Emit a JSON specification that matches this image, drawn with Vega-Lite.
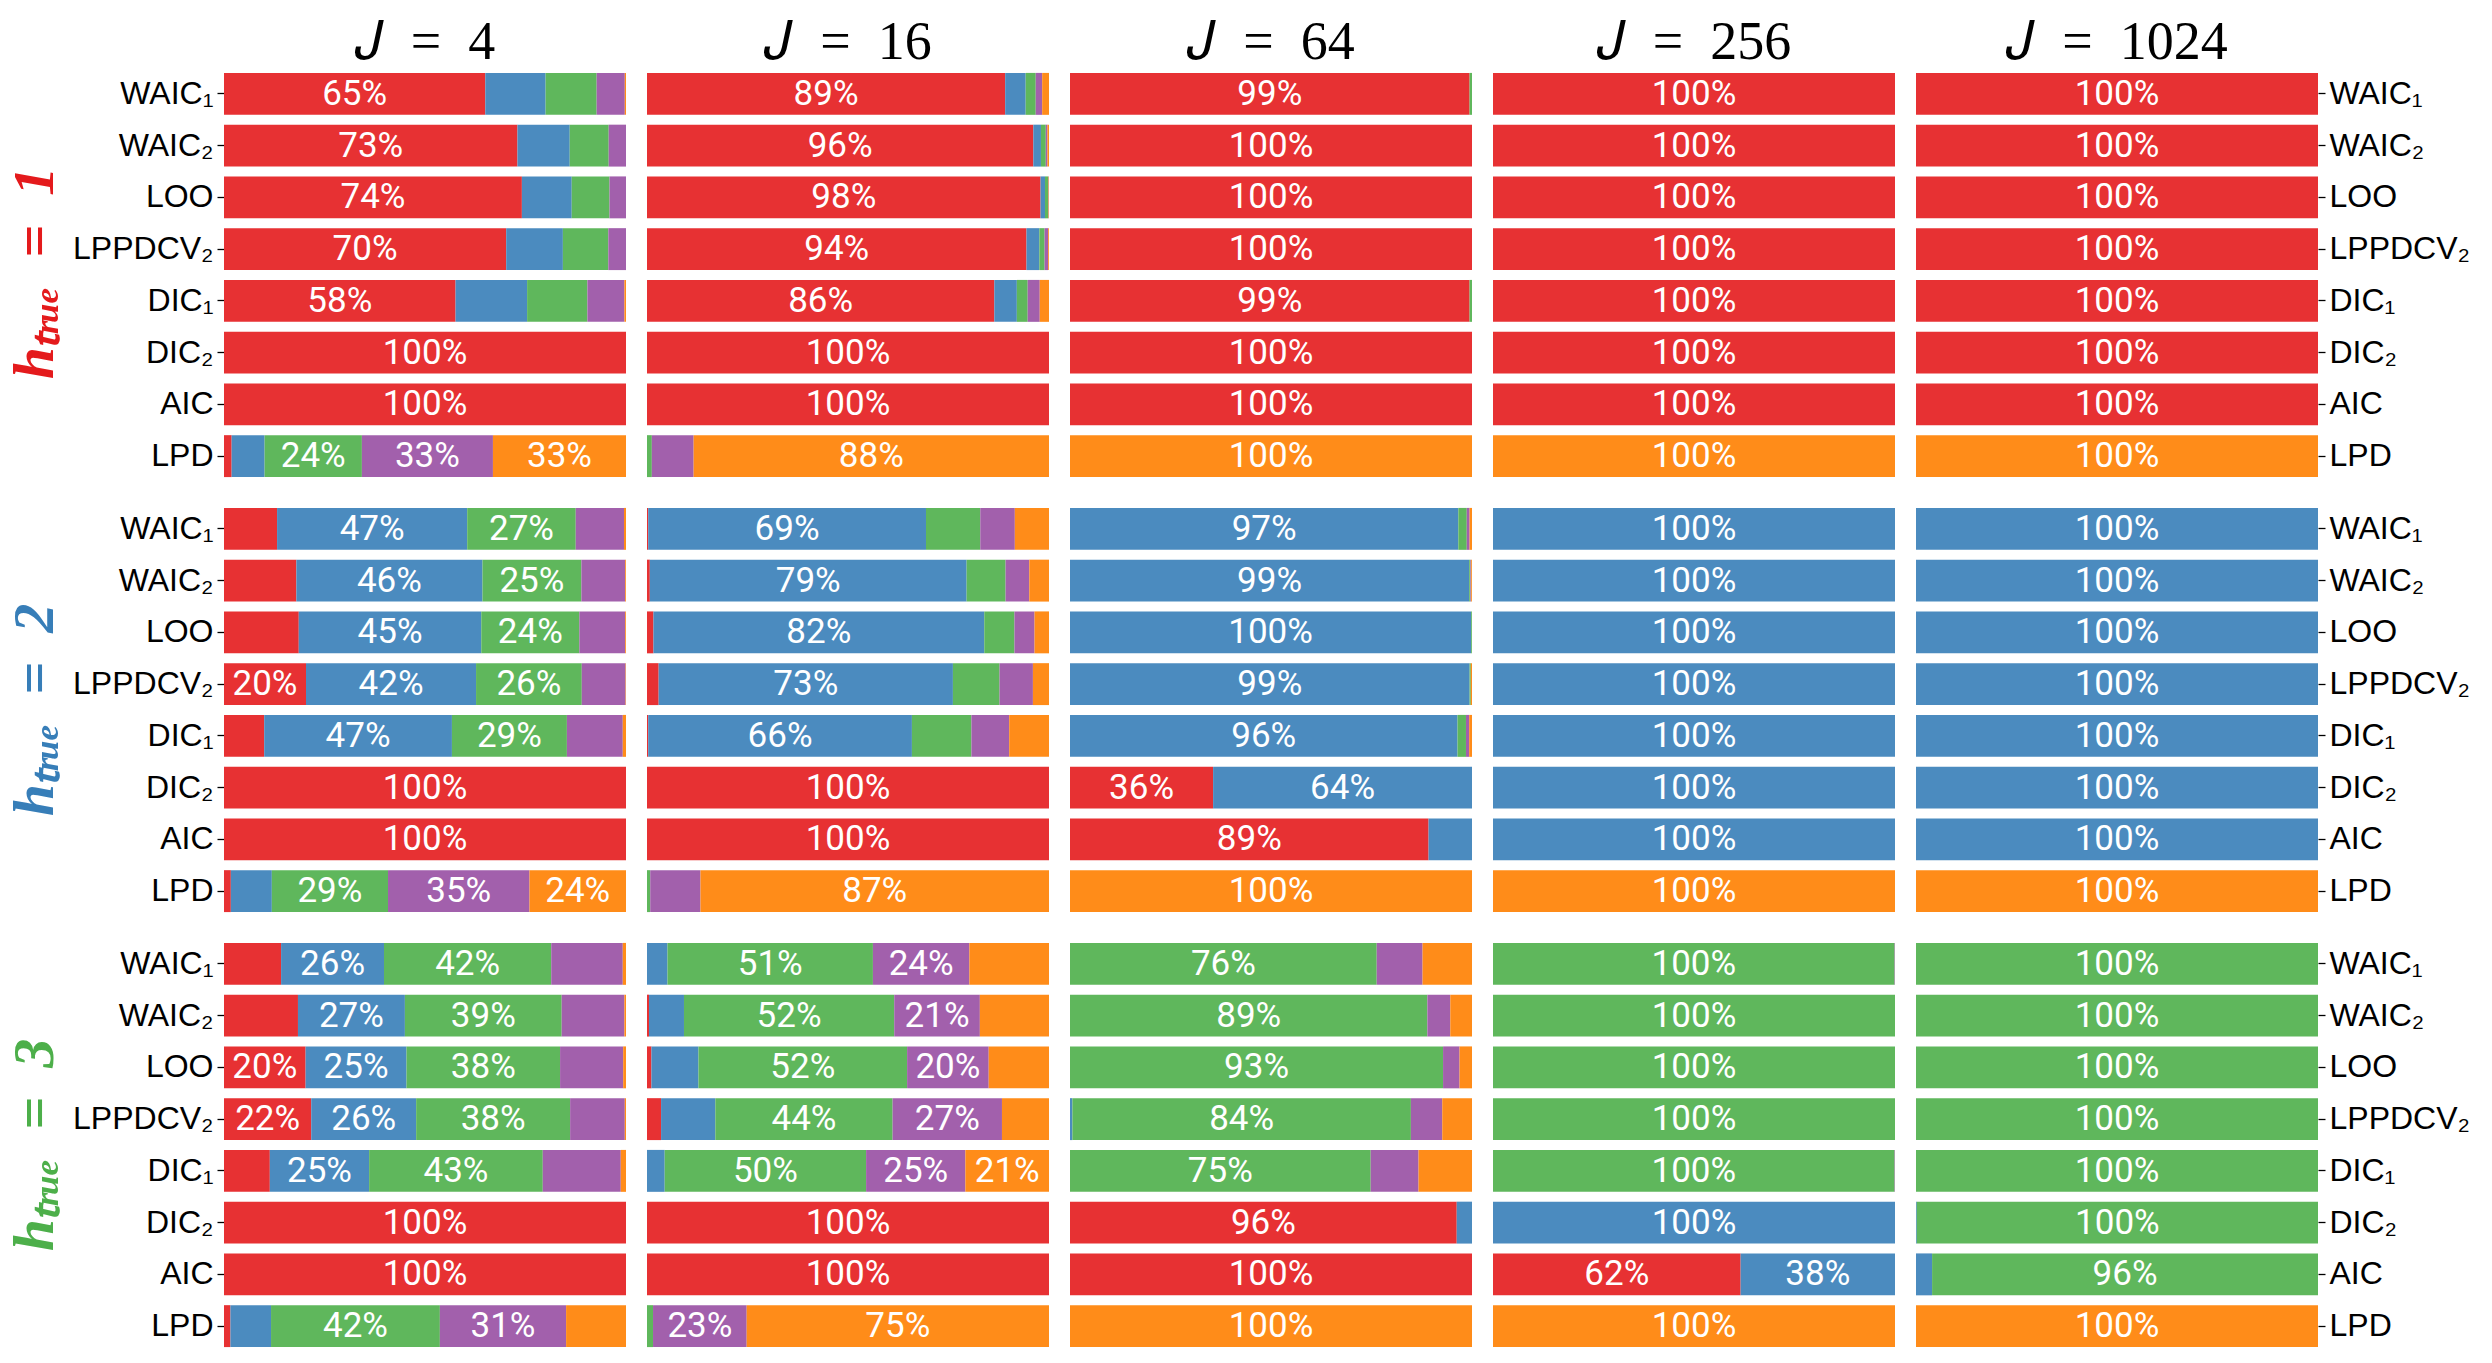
{
  "$schema": "https://vega.github.io/schema/vega-lite/v6.json",
  "background": "white",
  "padding": {"left": 6, "top": 16, "right": 5, "bottom": 5},
  "data": {"values": [
    {"g":1,"J":4,"m":"WAIC₁","h1":0.65,"h2":0.15,"h3":0.127,"h4":0.07,"h5":0.003},
    {"g":1,"J":4,"m":"WAIC₂","h1":0.73,"h2":0.13,"h3":0.097,"h4":0.043},
    {"g":1,"J":4,"m":"LOO","h1":0.741,"h2":0.124,"h3":0.094,"h4":0.041},
    {"g":1,"J":4,"m":"LPPDCV₂","h1":0.702,"h2":0.141,"h3":0.113,"h4":0.044},
    {"g":1,"J":4,"m":"DIC₁","h1":0.576,"h2":0.178,"h3":0.15,"h4":0.092,"h5":0.004},
    {"g":1,"J":4,"m":"DIC₂","h1":1},
    {"g":1,"J":4,"m":"AIC","h1":1},
    {"g":1,"J":4,"m":"LPD","h1":0.019,"h2":0.082,"h3":0.242,"h4":0.326,"h5":0.331},
    {"g":1,"J":16,"m":"WAIC₁","h1":0.891,"h2":0.051,"h3":0.025,"h4":0.016,"h5":0.017},
    {"g":1,"J":16,"m":"WAIC₂","h1":0.961,"h2":0.019,"h3":0.012,"h4":0.004,"h5":0.004},
    {"g":1,"J":16,"m":"LOO","h1":0.979,"h2":0.011,"h3":0.008,"h4":0.001,"h5":0.001},
    {"g":1,"J":16,"m":"LPPDCV₂","h1":0.944,"h2":0.032,"h3":0.013,"h4":0.009,"h5":0.002},
    {"g":1,"J":16,"m":"DIC₁","h1":0.864,"h2":0.056,"h3":0.027,"h4":0.03,"h5":0.023},
    {"g":1,"J":16,"m":"DIC₂","h1":1},
    {"g":1,"J":16,"m":"AIC","h1":1},
    {"g":1,"J":16,"m":"LPD","h3":0.012,"h4":0.104,"h5":0.884},
    {"g":1,"J":64,"m":"WAIC₁","h1":0.994,"h3":0.006},
    {"g":1,"J":64,"m":"WAIC₂","h1":1},
    {"g":1,"J":64,"m":"LOO","h1":1},
    {"g":1,"J":64,"m":"LPPDCV₂","h1":1},
    {"g":1,"J":64,"m":"DIC₁","h1":0.994,"h3":0.006},
    {"g":1,"J":64,"m":"DIC₂","h1":1},
    {"g":1,"J":64,"m":"AIC","h1":1},
    {"g":1,"J":64,"m":"LPD","h5":1},
    {"g":1,"J":256,"m":"WAIC₁","h1":1},
    {"g":1,"J":256,"m":"WAIC₂","h1":1},
    {"g":1,"J":256,"m":"LOO","h1":1},
    {"g":1,"J":256,"m":"LPPDCV₂","h1":1},
    {"g":1,"J":256,"m":"DIC₁","h1":1},
    {"g":1,"J":256,"m":"DIC₂","h1":1},
    {"g":1,"J":256,"m":"AIC","h1":1},
    {"g":1,"J":256,"m":"LPD","h5":1},
    {"g":1,"J":1024,"m":"WAIC₁","h1":1},
    {"g":1,"J":1024,"m":"WAIC₂","h1":1},
    {"g":1,"J":1024,"m":"LOO","h1":1},
    {"g":1,"J":1024,"m":"LPPDCV₂","h1":1},
    {"g":1,"J":1024,"m":"DIC₁","h1":1},
    {"g":1,"J":1024,"m":"DIC₂","h1":1},
    {"g":1,"J":1024,"m":"AIC","h1":1},
    {"g":1,"J":1024,"m":"LPD","h5":1},
    {"g":2,"J":4,"m":"WAIC₁","h1":0.132,"h2":0.473,"h3":0.27,"h4":0.12,"h5":0.005},
    {"g":2,"J":4,"m":"WAIC₂","h1":0.18,"h2":0.463,"h3":0.246,"h4":0.109,"h5":0.002},
    {"g":2,"J":4,"m":"LOO","h1":0.186,"h2":0.454,"h3":0.244,"h4":0.114,"h5":0.002},
    {"g":2,"J":4,"m":"LPPDCV₂","h1":0.204,"h2":0.423,"h3":0.263,"h4":0.109,"h5":0.001},
    {"g":2,"J":4,"m":"DIC₁","h1":0.1,"h2":0.467,"h3":0.286,"h4":0.139,"h5":0.008},
    {"g":2,"J":4,"m":"DIC₂","h1":1},
    {"g":2,"J":4,"m":"AIC","h1":1},
    {"g":2,"J":4,"m":"LPD","h1":0.017,"h2":0.102,"h3":0.289,"h4":0.352,"h5":0.24},
    {"g":2,"J":16,"m":"WAIC₁","h1":0.003,"h2":0.691,"h3":0.135,"h4":0.086,"h5":0.085},
    {"g":2,"J":16,"m":"WAIC₂","h1":0.007,"h2":0.788,"h3":0.097,"h4":0.059,"h5":0.049},
    {"g":2,"J":16,"m":"LOO","h1":0.016,"h2":0.823,"h3":0.075,"h4":0.05,"h5":0.036},
    {"g":2,"J":16,"m":"LPPDCV₂","h1":0.029,"h2":0.732,"h3":0.116,"h4":0.083,"h5":0.04},
    {"g":2,"J":16,"m":"DIC₁","h1":0.003,"h2":0.656,"h3":0.148,"h4":0.094,"h5":0.099},
    {"g":2,"J":16,"m":"DIC₂","h1":1},
    {"g":2,"J":16,"m":"AIC","h1":1},
    {"g":2,"J":16,"m":"LPD","h3":0.008,"h4":0.125,"h5":0.867},
    {"g":2,"J":64,"m":"WAIC₁","h2":0.966,"h3":0.021,"h4":0.007,"h5":0.006},
    {"g":2,"J":64,"m":"WAIC₂","h2":0.993,"h3":0.003,"h4":0.002,"h5":0.002},
    {"g":2,"J":64,"m":"LOO","h2":0.998,"h3":0.002},
    {"g":2,"J":64,"m":"LPPDCV₂","h2":0.994,"h3":0.003,"h5":0.003},
    {"g":2,"J":64,"m":"DIC₁","h2":0.964,"h3":0.021,"h4":0.008,"h5":0.007},
    {"g":2,"J":64,"m":"DIC₂","h1":0.356,"h2":0.644},
    {"g":2,"J":64,"m":"AIC","h1":0.892,"h2":0.108},
    {"g":2,"J":64,"m":"LPD","h5":1},
    {"g":2,"J":256,"m":"WAIC₁","h2":1},
    {"g":2,"J":256,"m":"WAIC₂","h2":1},
    {"g":2,"J":256,"m":"LOO","h2":1},
    {"g":2,"J":256,"m":"LPPDCV₂","h2":1},
    {"g":2,"J":256,"m":"DIC₁","h2":1},
    {"g":2,"J":256,"m":"DIC₂","h2":1},
    {"g":2,"J":256,"m":"AIC","h2":1},
    {"g":2,"J":256,"m":"LPD","h5":1},
    {"g":2,"J":1024,"m":"WAIC₁","h2":1},
    {"g":2,"J":1024,"m":"WAIC₂","h2":1},
    {"g":2,"J":1024,"m":"LOO","h2":1},
    {"g":2,"J":1024,"m":"LPPDCV₂","h2":1},
    {"g":2,"J":1024,"m":"DIC₁","h2":1},
    {"g":2,"J":1024,"m":"DIC₂","h2":1},
    {"g":2,"J":1024,"m":"AIC","h2":1},
    {"g":2,"J":1024,"m":"LPD","h5":1},
    {"g":3,"J":4,"m":"WAIC₁","h1":0.142,"h2":0.256,"h3":0.416,"h4":0.178,"h5":0.008},
    {"g":3,"J":4,"m":"WAIC₂","h1":0.184,"h2":0.266,"h3":0.39,"h4":0.156,"h5":0.004},
    {"g":3,"J":4,"m":"LOO","h1":0.203,"h2":0.251,"h3":0.382,"h4":0.157,"h5":0.007},
    {"g":3,"J":4,"m":"LPPDCV₂","h1":0.217,"h2":0.261,"h3":0.383,"h4":0.136,"h5":0.003},
    {"g":3,"J":4,"m":"DIC₁","h1":0.114,"h2":0.247,"h3":0.432,"h4":0.194,"h5":0.013},
    {"g":3,"J":4,"m":"DIC₂","h1":1},
    {"g":3,"J":4,"m":"AIC","h1":1},
    {"g":3,"J":4,"m":"LPD","h1":0.016,"h2":0.101,"h3":0.42,"h4":0.314,"h5":0.149},
    {"g":3,"J":16,"m":"WAIC₁","h2":0.051,"h3":0.511,"h4":0.24,"h5":0.198},
    {"g":3,"J":16,"m":"WAIC₂","h1":0.005,"h2":0.087,"h3":0.523,"h4":0.213,"h5":0.172},
    {"g":3,"J":16,"m":"LOO","h1":0.011,"h2":0.117,"h3":0.519,"h4":0.203,"h5":0.15},
    {"g":3,"J":16,"m":"LPPDCV₂","h1":0.035,"h2":0.135,"h3":0.441,"h4":0.272,"h5":0.117},
    {"g":3,"J":16,"m":"DIC₁","h2":0.044,"h3":0.501,"h4":0.247,"h5":0.208},
    {"g":3,"J":16,"m":"DIC₂","h1":1},
    {"g":3,"J":16,"m":"AIC","h1":1},
    {"g":3,"J":16,"m":"LPD","h3":0.015,"h4":0.233,"h5":0.752},
    {"g":3,"J":64,"m":"WAIC₁","h3":0.763,"h4":0.114,"h5":0.123},
    {"g":3,"J":64,"m":"WAIC₂","h3":0.889,"h4":0.057,"h5":0.054},
    {"g":3,"J":64,"m":"LOO","h3":0.928,"h4":0.041,"h5":0.031},
    {"g":3,"J":64,"m":"LPPDCV₂","h2":0.006,"h3":0.842,"h4":0.078,"h5":0.074},
    {"g":3,"J":64,"m":"DIC₁","h3":0.748,"h4":0.119,"h5":0.133},
    {"g":3,"J":64,"m":"DIC₂","h1":0.962,"h2":0.038},
    {"g":3,"J":64,"m":"AIC","h1":1},
    {"g":3,"J":64,"m":"LPD","h5":1},
    {"g":3,"J":256,"m":"WAIC₁","h3":0.999,"h4":0.001},
    {"g":3,"J":256,"m":"WAIC₂","h3":1},
    {"g":3,"J":256,"m":"LOO","h3":1},
    {"g":3,"J":256,"m":"LPPDCV₂","h3":1},
    {"g":3,"J":256,"m":"DIC₁","h3":0.999,"h4":0.001},
    {"g":3,"J":256,"m":"DIC₂","h2":1},
    {"g":3,"J":256,"m":"AIC","h1":0.616,"h2":0.384},
    {"g":3,"J":256,"m":"LPD","h5":1},
    {"g":3,"J":1024,"m":"WAIC₁","h3":1},
    {"g":3,"J":1024,"m":"WAIC₂","h3":1},
    {"g":3,"J":1024,"m":"LOO","h3":1},
    {"g":3,"J":1024,"m":"LPPDCV₂","h3":1},
    {"g":3,"J":1024,"m":"DIC₁","h3":1},
    {"g":3,"J":1024,"m":"DIC₂","h2":0.002,"h3":0.998},
    {"g":3,"J":1024,"m":"AIC","h2":0.04,"h3":0.96},
    {"g":3,"J":1024,"m":"LPD","h5":1}
  ]},
  "transform": [
    {"fold": ["h1","h2","h3","h4","h5"], "as": ["h","p"]},
    {"filter": "isValid(datum.p) && datum.p > 0"},
    {"window": [{"op": "sum", "field": "p", "as": "cum"}], "groupby": ["g","J","m"], "sort": [{"field": "h", "order": "ascending"}], "frame": [null, 0]},
    {"calculate": "datum.cum - datum.p", "as": "lo"},
    {"calculate": "datum.cum - datum.p / 2", "as": "mid"}
  ],
  "config": {
    "view": {"stroke": null},
    "concat": {"spacing": 21},
    "axis": {"labelFont": "Liberation Sans", "labelFontSize": 32, "labelColor": "black", "tickColor": "black", "tickSize": 7, "tickWidth": 1.3, "domain": false, "labelPadding": 4, "grid": false},
    "title": {"font": "Liberation Serif", "fontSize": 54, "fontWeight": "normal", "color": "black", "offset": -2}
  },
  "vconcat": [
    {
      "title": {"text": "hₜᵣᵤₑ\u2002=\u20021", "orient": "left", "color": "#e41a1c", "fontSize": 58, "fontWeight": "bold", "fontStyle": "italic", "anchor": "middle", "offset": 8, "dx": -24},
      "spacing": 21,
      "hconcat": [
        {"width": 402, "height": 414, "title": "𝐽\u2002=\u20024", "transform": [{"filter": "datum.g==1 && datum.J==4"}],
         "encoding": {"y": {"field": "m", "type": "nominal", "sort": ["WAIC₁","WAIC₂","LOO","LPPDCV₂","DIC₁","DIC₂","AIC","LPD"], "scale": {"paddingInner": 0.19, "paddingOuter": 0.095}, "axis": {"orient": "left", "title": null}}},
         "layer": [
          {"mark": {"type": "bar"}, "encoding": {"x": {"field": "lo", "type": "quantitative", "scale": {"domain": [0,1], "nice": false}, "axis": null}, "x2": {"field": "cum"}, "color": {"field": "h", "type": "nominal", "scale": {"domain": ["h1","h2","h3","h4","h5"], "range": ["#e73133","#4b8bbf","#5fb75c","#a260ac","#ff8c19"]}, "legend": null}}},
          {"transform": [{"filter": "datum.p >= 0.2"}], "mark": {"type": "text", "color": "white", "font": "Roboto", "fontSize": 35}, "encoding": {"x": {"field": "mid", "type": "quantitative"}, "text": {"field": "p", "type": "quantitative", "format": ".0%"}}}
         ]},
        {"width": 402, "height": 414, "title": "𝐽\u2002=\u200216", "transform": [{"filter": "datum.g==1 && datum.J==16"}],
         "encoding": {"y": {"field": "m", "type": "nominal", "sort": ["WAIC₁","WAIC₂","LOO","LPPDCV₂","DIC₁","DIC₂","AIC","LPD"], "scale": {"paddingInner": 0.19, "paddingOuter": 0.095}, "axis": null}},
         "layer": [
          {"mark": {"type": "bar"}, "encoding": {"x": {"field": "lo", "type": "quantitative", "scale": {"domain": [0,1], "nice": false}, "axis": null}, "x2": {"field": "cum"}, "color": {"field": "h", "type": "nominal", "scale": {"domain": ["h1","h2","h3","h4","h5"], "range": ["#e73133","#4b8bbf","#5fb75c","#a260ac","#ff8c19"]}, "legend": null}}},
          {"transform": [{"filter": "datum.p >= 0.2"}], "mark": {"type": "text", "color": "white", "font": "Roboto", "fontSize": 35}, "encoding": {"x": {"field": "mid", "type": "quantitative"}, "text": {"field": "p", "type": "quantitative", "format": ".0%"}}}
         ]},
        {"width": 402, "height": 414, "title": "𝐽\u2002=\u200264", "transform": [{"filter": "datum.g==1 && datum.J==64"}],
         "encoding": {"y": {"field": "m", "type": "nominal", "sort": ["WAIC₁","WAIC₂","LOO","LPPDCV₂","DIC₁","DIC₂","AIC","LPD"], "scale": {"paddingInner": 0.19, "paddingOuter": 0.095}, "axis": null}},
         "layer": [
          {"mark": {"type": "bar"}, "encoding": {"x": {"field": "lo", "type": "quantitative", "scale": {"domain": [0,1], "nice": false}, "axis": null}, "x2": {"field": "cum"}, "color": {"field": "h", "type": "nominal", "scale": {"domain": ["h1","h2","h3","h4","h5"], "range": ["#e73133","#4b8bbf","#5fb75c","#a260ac","#ff8c19"]}, "legend": null}}},
          {"transform": [{"filter": "datum.p >= 0.2"}], "mark": {"type": "text", "color": "white", "font": "Roboto", "fontSize": 35}, "encoding": {"x": {"field": "mid", "type": "quantitative"}, "text": {"field": "p", "type": "quantitative", "format": ".0%"}}}
         ]},
        {"width": 402, "height": 414, "title": "𝐽\u2002=\u2002256", "transform": [{"filter": "datum.g==1 && datum.J==256"}],
         "encoding": {"y": {"field": "m", "type": "nominal", "sort": ["WAIC₁","WAIC₂","LOO","LPPDCV₂","DIC₁","DIC₂","AIC","LPD"], "scale": {"paddingInner": 0.19, "paddingOuter": 0.095}, "axis": null}},
         "layer": [
          {"mark": {"type": "bar"}, "encoding": {"x": {"field": "lo", "type": "quantitative", "scale": {"domain": [0,1], "nice": false}, "axis": null}, "x2": {"field": "cum"}, "color": {"field": "h", "type": "nominal", "scale": {"domain": ["h1","h2","h3","h4","h5"], "range": ["#e73133","#4b8bbf","#5fb75c","#a260ac","#ff8c19"]}, "legend": null}}},
          {"transform": [{"filter": "datum.p >= 0.2"}], "mark": {"type": "text", "color": "white", "font": "Roboto", "fontSize": 35}, "encoding": {"x": {"field": "mid", "type": "quantitative"}, "text": {"field": "p", "type": "quantitative", "format": ".0%"}}}
         ]},
        {"width": 402, "height": 414, "title": "𝐽\u2002=\u20021024", "transform": [{"filter": "datum.g==1 && datum.J==1024"}],
         "encoding": {"y": {"field": "m", "type": "nominal", "sort": ["WAIC₁","WAIC₂","LOO","LPPDCV₂","DIC₁","DIC₂","AIC","LPD"], "scale": {"paddingInner": 0.19, "paddingOuter": 0.095}, "axis": {"orient": "right", "title": null}}},
         "layer": [
          {"mark": {"type": "bar"}, "encoding": {"x": {"field": "lo", "type": "quantitative", "scale": {"domain": [0,1], "nice": false}, "axis": null}, "x2": {"field": "cum"}, "color": {"field": "h", "type": "nominal", "scale": {"domain": ["h1","h2","h3","h4","h5"], "range": ["#e73133","#4b8bbf","#5fb75c","#a260ac","#ff8c19"]}, "legend": null}}},
          {"transform": [{"filter": "datum.p >= 0.2"}], "mark": {"type": "text", "color": "white", "font": "Roboto", "fontSize": 35}, "encoding": {"x": {"field": "mid", "type": "quantitative"}, "text": {"field": "p", "type": "quantitative", "format": ".0%"}}}
         ]}
      ]
    },
    {
      "title": {"text": "hₜᵣᵤₑ\u2002=\u20022", "orient": "left", "color": "#377eb8", "fontSize": 58, "fontWeight": "bold", "fontStyle": "italic", "anchor": "middle", "offset": 8},
      "spacing": 21,
      "hconcat": [
        {"width": 402, "height": 414, "transform": [{"filter": "datum.g==2 && datum.J==4"}],
         "encoding": {"y": {"field": "m", "type": "nominal", "sort": ["WAIC₁","WAIC₂","LOO","LPPDCV₂","DIC₁","DIC₂","AIC","LPD"], "scale": {"paddingInner": 0.19, "paddingOuter": 0.095}, "axis": {"orient": "left", "title": null}}},
         "layer": [
          {"mark": {"type": "bar"}, "encoding": {"x": {"field": "lo", "type": "quantitative", "scale": {"domain": [0,1], "nice": false}, "axis": null}, "x2": {"field": "cum"}, "color": {"field": "h", "type": "nominal", "scale": {"domain": ["h1","h2","h3","h4","h5"], "range": ["#e73133","#4b8bbf","#5fb75c","#a260ac","#ff8c19"]}, "legend": null}}},
          {"transform": [{"filter": "datum.p >= 0.2"}], "mark": {"type": "text", "color": "white", "font": "Roboto", "fontSize": 35}, "encoding": {"x": {"field": "mid", "type": "quantitative"}, "text": {"field": "p", "type": "quantitative", "format": ".0%"}}}
         ]},
        {"width": 402, "height": 414, "transform": [{"filter": "datum.g==2 && datum.J==16"}],
         "encoding": {"y": {"field": "m", "type": "nominal", "sort": ["WAIC₁","WAIC₂","LOO","LPPDCV₂","DIC₁","DIC₂","AIC","LPD"], "scale": {"paddingInner": 0.19, "paddingOuter": 0.095}, "axis": null}},
         "layer": [
          {"mark": {"type": "bar"}, "encoding": {"x": {"field": "lo", "type": "quantitative", "scale": {"domain": [0,1], "nice": false}, "axis": null}, "x2": {"field": "cum"}, "color": {"field": "h", "type": "nominal", "scale": {"domain": ["h1","h2","h3","h4","h5"], "range": ["#e73133","#4b8bbf","#5fb75c","#a260ac","#ff8c19"]}, "legend": null}}},
          {"transform": [{"filter": "datum.p >= 0.2"}], "mark": {"type": "text", "color": "white", "font": "Roboto", "fontSize": 35}, "encoding": {"x": {"field": "mid", "type": "quantitative"}, "text": {"field": "p", "type": "quantitative", "format": ".0%"}}}
         ]},
        {"width": 402, "height": 414, "transform": [{"filter": "datum.g==2 && datum.J==64"}],
         "encoding": {"y": {"field": "m", "type": "nominal", "sort": ["WAIC₁","WAIC₂","LOO","LPPDCV₂","DIC₁","DIC₂","AIC","LPD"], "scale": {"paddingInner": 0.19, "paddingOuter": 0.095}, "axis": null}},
         "layer": [
          {"mark": {"type": "bar"}, "encoding": {"x": {"field": "lo", "type": "quantitative", "scale": {"domain": [0,1], "nice": false}, "axis": null}, "x2": {"field": "cum"}, "color": {"field": "h", "type": "nominal", "scale": {"domain": ["h1","h2","h3","h4","h5"], "range": ["#e73133","#4b8bbf","#5fb75c","#a260ac","#ff8c19"]}, "legend": null}}},
          {"transform": [{"filter": "datum.p >= 0.2"}], "mark": {"type": "text", "color": "white", "font": "Roboto", "fontSize": 35}, "encoding": {"x": {"field": "mid", "type": "quantitative"}, "text": {"field": "p", "type": "quantitative", "format": ".0%"}}}
         ]},
        {"width": 402, "height": 414, "transform": [{"filter": "datum.g==2 && datum.J==256"}],
         "encoding": {"y": {"field": "m", "type": "nominal", "sort": ["WAIC₁","WAIC₂","LOO","LPPDCV₂","DIC₁","DIC₂","AIC","LPD"], "scale": {"paddingInner": 0.19, "paddingOuter": 0.095}, "axis": null}},
         "layer": [
          {"mark": {"type": "bar"}, "encoding": {"x": {"field": "lo", "type": "quantitative", "scale": {"domain": [0,1], "nice": false}, "axis": null}, "x2": {"field": "cum"}, "color": {"field": "h", "type": "nominal", "scale": {"domain": ["h1","h2","h3","h4","h5"], "range": ["#e73133","#4b8bbf","#5fb75c","#a260ac","#ff8c19"]}, "legend": null}}},
          {"transform": [{"filter": "datum.p >= 0.2"}], "mark": {"type": "text", "color": "white", "font": "Roboto", "fontSize": 35}, "encoding": {"x": {"field": "mid", "type": "quantitative"}, "text": {"field": "p", "type": "quantitative", "format": ".0%"}}}
         ]},
        {"width": 402, "height": 414, "transform": [{"filter": "datum.g==2 && datum.J==1024"}],
         "encoding": {"y": {"field": "m", "type": "nominal", "sort": ["WAIC₁","WAIC₂","LOO","LPPDCV₂","DIC₁","DIC₂","AIC","LPD"], "scale": {"paddingInner": 0.19, "paddingOuter": 0.095}, "axis": {"orient": "right", "title": null}}},
         "layer": [
          {"mark": {"type": "bar"}, "encoding": {"x": {"field": "lo", "type": "quantitative", "scale": {"domain": [0,1], "nice": false}, "axis": null}, "x2": {"field": "cum"}, "color": {"field": "h", "type": "nominal", "scale": {"domain": ["h1","h2","h3","h4","h5"], "range": ["#e73133","#4b8bbf","#5fb75c","#a260ac","#ff8c19"]}, "legend": null}}},
          {"transform": [{"filter": "datum.p >= 0.2"}], "mark": {"type": "text", "color": "white", "font": "Roboto", "fontSize": 35}, "encoding": {"x": {"field": "mid", "type": "quantitative"}, "text": {"field": "p", "type": "quantitative", "format": ".0%"}}}
         ]}
      ]
    },
    {
      "title": {"text": "hₜᵣᵤₑ\u2002=\u20023", "orient": "left", "color": "#4daf4a", "fontSize": 58, "fontWeight": "bold", "fontStyle": "italic", "anchor": "middle", "offset": 8},
      "spacing": 21,
      "hconcat": [
        {"width": 402, "height": 414, "transform": [{"filter": "datum.g==3 && datum.J==4"}],
         "encoding": {"y": {"field": "m", "type": "nominal", "sort": ["WAIC₁","WAIC₂","LOO","LPPDCV₂","DIC₁","DIC₂","AIC","LPD"], "scale": {"paddingInner": 0.19, "paddingOuter": 0.095}, "axis": {"orient": "left", "title": null}}},
         "layer": [
          {"mark": {"type": "bar"}, "encoding": {"x": {"field": "lo", "type": "quantitative", "scale": {"domain": [0,1], "nice": false}, "axis": null}, "x2": {"field": "cum"}, "color": {"field": "h", "type": "nominal", "scale": {"domain": ["h1","h2","h3","h4","h5"], "range": ["#e73133","#4b8bbf","#5fb75c","#a260ac","#ff8c19"]}, "legend": null}}},
          {"transform": [{"filter": "datum.p >= 0.2"}], "mark": {"type": "text", "color": "white", "font": "Roboto", "fontSize": 35}, "encoding": {"x": {"field": "mid", "type": "quantitative"}, "text": {"field": "p", "type": "quantitative", "format": ".0%"}}}
         ]},
        {"width": 402, "height": 414, "transform": [{"filter": "datum.g==3 && datum.J==16"}],
         "encoding": {"y": {"field": "m", "type": "nominal", "sort": ["WAIC₁","WAIC₂","LOO","LPPDCV₂","DIC₁","DIC₂","AIC","LPD"], "scale": {"paddingInner": 0.19, "paddingOuter": 0.095}, "axis": null}},
         "layer": [
          {"mark": {"type": "bar"}, "encoding": {"x": {"field": "lo", "type": "quantitative", "scale": {"domain": [0,1], "nice": false}, "axis": null}, "x2": {"field": "cum"}, "color": {"field": "h", "type": "nominal", "scale": {"domain": ["h1","h2","h3","h4","h5"], "range": ["#e73133","#4b8bbf","#5fb75c","#a260ac","#ff8c19"]}, "legend": null}}},
          {"transform": [{"filter": "datum.p >= 0.2"}], "mark": {"type": "text", "color": "white", "font": "Roboto", "fontSize": 35}, "encoding": {"x": {"field": "mid", "type": "quantitative"}, "text": {"field": "p", "type": "quantitative", "format": ".0%"}}}
         ]},
        {"width": 402, "height": 414, "transform": [{"filter": "datum.g==3 && datum.J==64"}],
         "encoding": {"y": {"field": "m", "type": "nominal", "sort": ["WAIC₁","WAIC₂","LOO","LPPDCV₂","DIC₁","DIC₂","AIC","LPD"], "scale": {"paddingInner": 0.19, "paddingOuter": 0.095}, "axis": null}},
         "layer": [
          {"mark": {"type": "bar"}, "encoding": {"x": {"field": "lo", "type": "quantitative", "scale": {"domain": [0,1], "nice": false}, "axis": null}, "x2": {"field": "cum"}, "color": {"field": "h", "type": "nominal", "scale": {"domain": ["h1","h2","h3","h4","h5"], "range": ["#e73133","#4b8bbf","#5fb75c","#a260ac","#ff8c19"]}, "legend": null}}},
          {"transform": [{"filter": "datum.p >= 0.2"}], "mark": {"type": "text", "color": "white", "font": "Roboto", "fontSize": 35}, "encoding": {"x": {"field": "mid", "type": "quantitative"}, "text": {"field": "p", "type": "quantitative", "format": ".0%"}}}
         ]},
        {"width": 402, "height": 414, "transform": [{"filter": "datum.g==3 && datum.J==256"}],
         "encoding": {"y": {"field": "m", "type": "nominal", "sort": ["WAIC₁","WAIC₂","LOO","LPPDCV₂","DIC₁","DIC₂","AIC","LPD"], "scale": {"paddingInner": 0.19, "paddingOuter": 0.095}, "axis": null}},
         "layer": [
          {"mark": {"type": "bar"}, "encoding": {"x": {"field": "lo", "type": "quantitative", "scale": {"domain": [0,1], "nice": false}, "axis": null}, "x2": {"field": "cum"}, "color": {"field": "h", "type": "nominal", "scale": {"domain": ["h1","h2","h3","h4","h5"], "range": ["#e73133","#4b8bbf","#5fb75c","#a260ac","#ff8c19"]}, "legend": null}}},
          {"transform": [{"filter": "datum.p >= 0.2"}], "mark": {"type": "text", "color": "white", "font": "Roboto", "fontSize": 35}, "encoding": {"x": {"field": "mid", "type": "quantitative"}, "text": {"field": "p", "type": "quantitative", "format": ".0%"}}}
         ]},
        {"width": 402, "height": 414, "transform": [{"filter": "datum.g==3 && datum.J==1024"}],
         "encoding": {"y": {"field": "m", "type": "nominal", "sort": ["WAIC₁","WAIC₂","LOO","LPPDCV₂","DIC₁","DIC₂","AIC","LPD"], "scale": {"paddingInner": 0.19, "paddingOuter": 0.095}, "axis": {"orient": "right", "title": null}}},
         "layer": [
          {"mark": {"type": "bar"}, "encoding": {"x": {"field": "lo", "type": "quantitative", "scale": {"domain": [0,1], "nice": false}, "axis": null}, "x2": {"field": "cum"}, "color": {"field": "h", "type": "nominal", "scale": {"domain": ["h1","h2","h3","h4","h5"], "range": ["#e73133","#4b8bbf","#5fb75c","#a260ac","#ff8c19"]}, "legend": null}}},
          {"transform": [{"filter": "datum.p >= 0.2"}], "mark": {"type": "text", "color": "white", "font": "Roboto", "fontSize": 35}, "encoding": {"x": {"field": "mid", "type": "quantitative"}, "text": {"field": "p", "type": "quantitative", "format": ".0%"}}}
         ]}
      ]
    }
  ]
}
